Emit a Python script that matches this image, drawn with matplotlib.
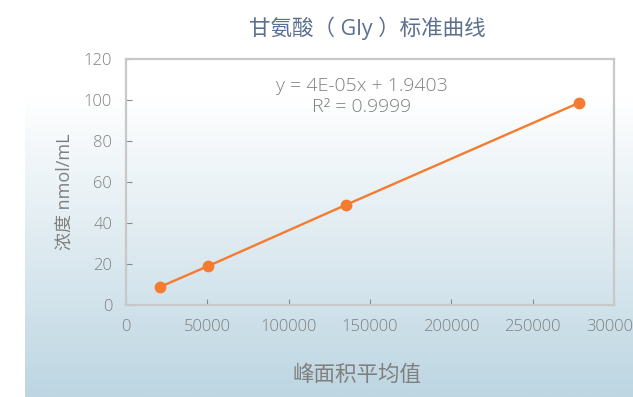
import numpy as np
import matplotlib.pyplot as plt
from matplotlib.colors import LinearSegmentedColormap

# 数据
peak_area = [21100, 50200, 135100, 278400]
conc = [8.9, 18.9, 48.8, 98.6]

title = "甘氨酸（ Gly ）标准曲线"
xlabel = "峰面积平均值"
ylabel = "浓度 nmol/mL"
eq_text = "y = 4E-05x + 1.9403\nR² = 0.9999"
x_ticks = [0, 50000, 100000, 150000, 200000, 250000, 300000]
y_ticks = [0, 20, 40, 60, 80, 100, 120]

fonts = ['Open Sans', 'Noto Sans CJK SC', 'DejaVu Sans']
plt.rcParams['font.family'] = fonts

W, H = 633, 397
fig = plt.figure(figsize=(W / 100, H / 100), dpi=100)

# 背景渐变（白 -> 浅蓝）
bg = fig.add_axes([25 / W, 0, 1 - 25 / W, 1])
bg.set_axis_off()
rows = np.linspace(0, 1, 400)
rows = np.clip((rows * H - 95) / (H - 95), 0, 1)
cmap = LinearSegmentedColormap.from_list("bgc", ["#FFFFFF", "#BDD6E2"])
bg.imshow(rows[:, None], aspect='auto', cmap=cmap, vmin=0, vmax=1,
          extent=[0, 1, 1, 0])
bg.set_xlim(0, 1)
bg.set_ylim(1, 0)

ax = fig.add_axes([126 / W, 1 - 305 / H, (614 - 126) / W, (305 - 59) / H])
ax.patch.set_alpha(0)

ax.plot(peak_area, conc, color='#F47B2F', linewidth=1.7, marker='o',
        markersize=8.5, markeredgewidth=0)

ax.set_xlim(0, 300000)
ax.set_ylim(0, 120)
ax.set_xticks(x_ticks)
ax.set_yticks(y_ticks)
ax.set_xticklabels([str(v) for v in x_ticks])
ax.set_yticklabels([str(v) for v in y_ticks])

for s in ax.spines.values():
    s.set_color('#C8C8C8')
    s.set_linewidth(1.6)

ax.tick_params(direction='in', length=4, width=0.8, color='#8A8A8A',
               labelsize=12, labelcolor='#7F7F7F', pad=10)
for lb in ax.get_xticklabels() + ax.get_yticklabels():
    lb.set_fontweight('light')

ax.text(0.483, 0.846, eq_text, transform=ax.transAxes, ha='center',
        va='center', fontsize=14, color='#7F7F7F', linespacing=1.2,
        fontweight='light')

fig.text(367 / W, 1 - 28 / H, title, ha='center', va='center',
         fontsize=15.5, color='#5B6F8E')
fig.text(357 / W, 1 - 375 / H, xlabel, ha='center', va='center',
         fontsize=15.5, color='#7F7F7F')
fig.text(64 / W, 1 - 192 / H, ylabel, ha='center', va='center',
         rotation=90, fontsize=13, color='#7F7F7F')

fig.savefig('out.png', dpi=100)
